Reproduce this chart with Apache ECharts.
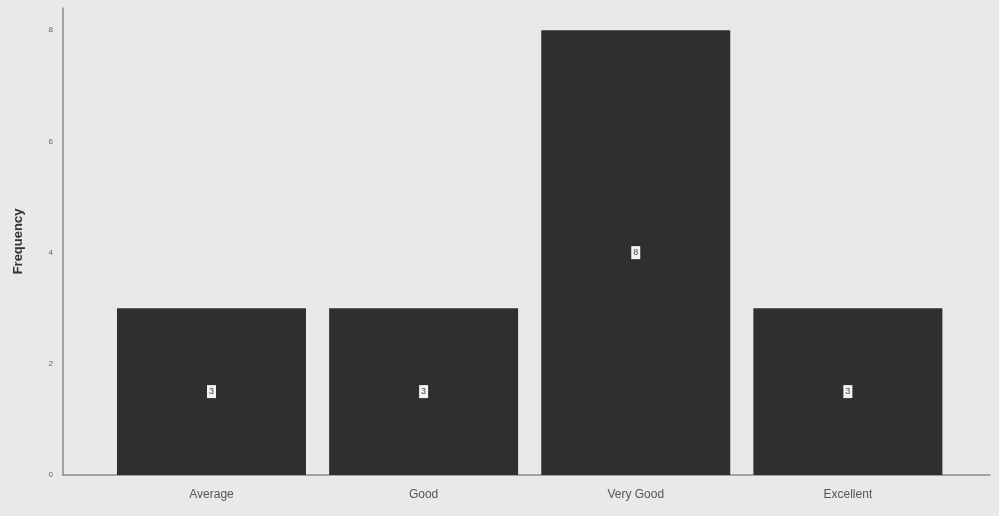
<!DOCTYPE html>
<html><head><meta charset="utf-8">
<script src="https://cdn.jsdelivr.net/npm/echarts@6/dist/echarts.min.js"></script>
<style>html,body{margin:0;padding:0;background:#e9e9e7;}#c{width:999px;height:516px;}</style>
</head><body><div id="c"></div>
<script>
const categories = ["Average", "Good", "Very Good", "Excellent"];
const frequencies = [3, 3, 8, 3];
const yTicks = [0, 2, 4, 6, 8];

const chart = echarts.init(document.getElementById('c'));
chart.setOption({
  backgroundColor: '#e9e9e7',
  animation: false,
  grid: { left: 63, right: 9, top: 8, bottom: 41 },
  xAxis: {
    type: 'value', min: -0.7, max: 3.67,
    splitLine: { show: false },
    axisLine: { show: true, onZero: false, lineStyle: { color: '#8a8a8a', width: 1.5 } },
    axisTick: { show: false },
    axisLabel: {
      customValues: categories.map((c, i) => i),
      formatter: v => categories[Math.round(v)] || '',
      color: '#555', fontSize: 12, fontFamily: 'Liberation Sans, Arial', margin: 14
    }
  },
  yAxis: {
    type: 'value', min: 0, max: 8.4, interval: 2,
    name: 'Frequency', nameLocation: 'middle', nameGap: 38, nameRotate: 90,
    nameTextStyle: { color: '#333', fontSize: 13, fontWeight: 'bold', fontFamily: 'Liberation Sans, Arial' },
    splitLine: { show: false },
    axisLine: { show: true, onZero: false, lineStyle: { color: '#8a8a8a', width: 1.5 } },
    axisTick: { show: false },
    axisLabel: {
      customValues: yTicks,
      color: '#666', fontSize: 8, fontFamily: 'Liberation Sans, Arial', margin: 10
    }
  },
  series: [{
    type: 'bar',
    barWidth: 189,
    data: frequencies.map((v, i) => [i, v]),
    itemStyle: { color: '#2f2f2f' },
    label: {
      show: true, position: 'inside',
      formatter: p => String(p.value[1]),
      color: '#444', fontSize: 9, fontFamily: 'Liberation Sans, Arial',
      backgroundColor: '#f4f4f4', padding: [2, 2]
    }
  }]
});
</script></body></html>
